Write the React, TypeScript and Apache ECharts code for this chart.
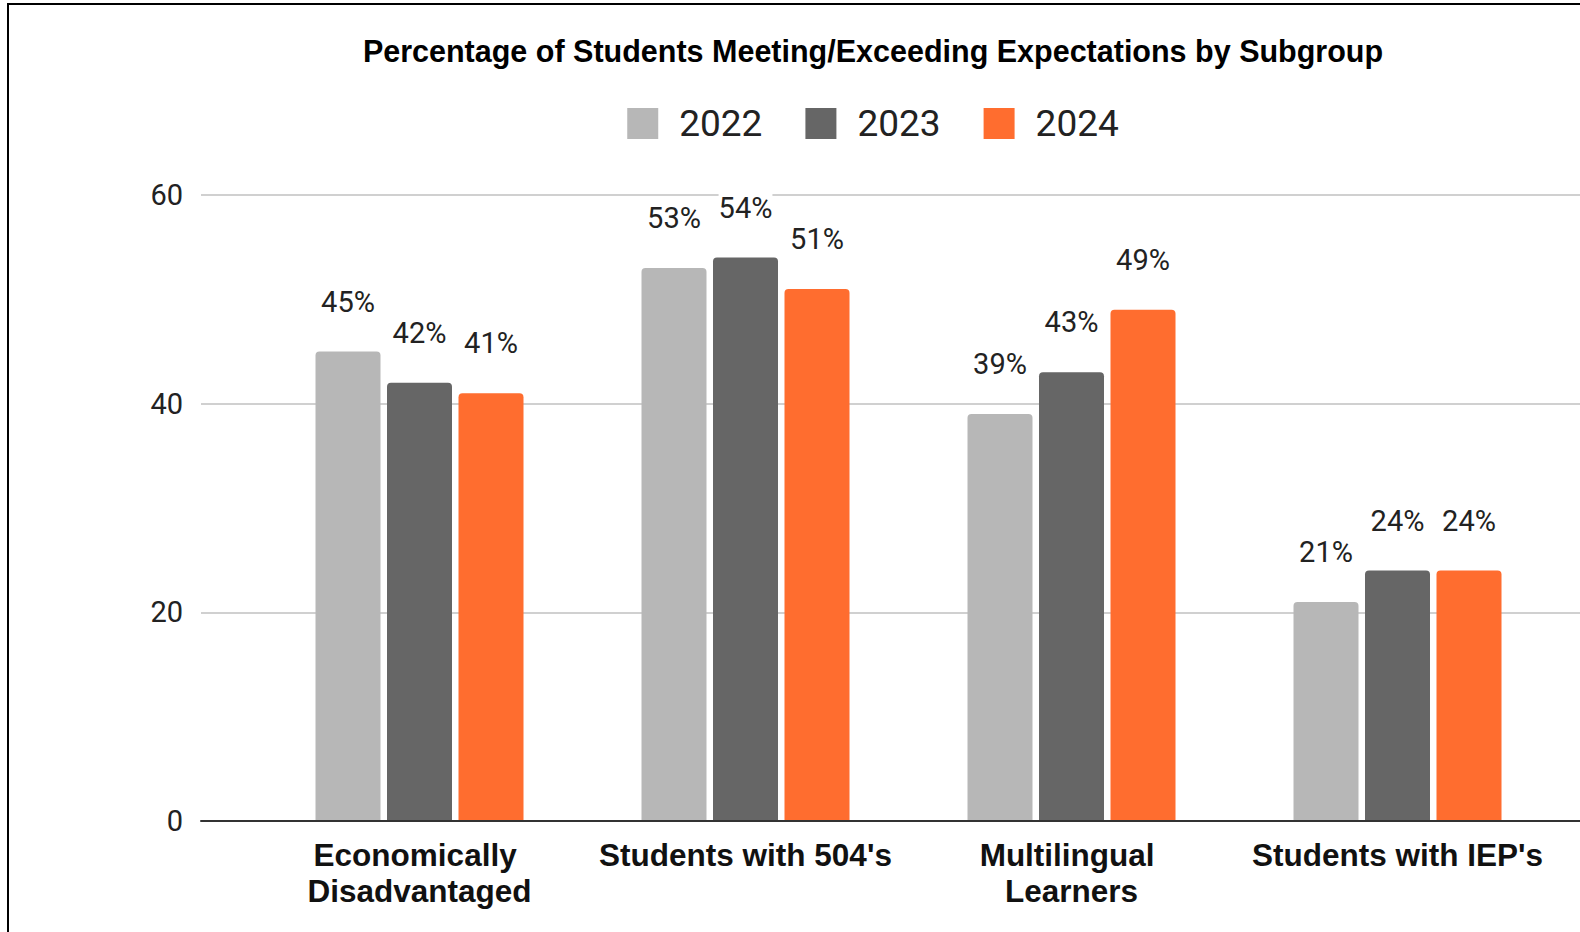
import React, { useEffect, useRef } from "react";
import * as echarts from "echarts";

const categories = [
  "Economically Disadvantaged",
  "Students with 504's",
  "Multilingual Learners",
  "Students with IEP's",
];
const seriesNames = ["2022", "2023", "2024"];
const values2022 = [45, 53, 39, 21];
const values2023 = [42, 54, 43, 24];
const values2024 = [41, 51, 49, 24];
const seriesColors = ["#b7b7b7", "#666666", "#ff6d2f"];
const yMin = 0;
const yMax = 60;
const yInterval = 20;

const titleText = "Percentage of Students Meeting/Exceeding Expectations by Subgroup";

export default function App() {
  const ref = useRef<HTMLDivElement>(null);
  useEffect(() => {
    if (!ref.current) return;
    const chart = echarts.init(ref.current, null, { renderer: "svg" });
    const allValues = [values2022, values2023, values2024];
    const sansBold = '"Liberation Sans", Arial, sans-serif';
    const roboto = "Roboto, 'Noto Sans', sans-serif";
    chart.setOption({
      animation: false,
      backgroundColor: "#ffffff",
      title: {
        text: titleText,
        left: "center",
        top: 30,
        textStyle: {
          fontFamily: sansBold,
          fontWeight: "bold",
          fontSize: 30.5,
          color: "#000000",
        },
      },
      legend: {
        data: seriesNames,
        left: "center",
        top: 100,
        icon: "rect",
        itemWidth: 31,
        itemHeight: 31,
        itemGap: 43,
        textStyle: {
          fontFamily: roboto,
          fontSize: 37,
          color: "#222222",
          padding: [0, 0, 0, 16],
        },
      },
      graphic: [
        {
          type: "rect",
          shape: { x: 8, y: 4, width: 1730, height: 1100 },
          style: { fill: "none", stroke: "#000000", lineWidth: 2 },
          silent: true,
          z: 100,
        },
      ],
      grid: [
        { left: 256.5, width: 1304, top: 195, height: 626 },
        { left: 201, width: 1414, top: 195, height: 626 },
      ],
      xAxis: [
        {
          type: "category",
          gridIndex: 0,
          data: categories,
          axisLine: { show: false },
          axisTick: { show: false },
          axisLabel: {
            margin: 16,
            fontFamily: sansBold,
            fontWeight: "bold",
            fontSize: 31.5,
            lineHeight: 36,
            color: "#111111",
            width: 305,
            overflow: "break",
            interval: 0,
          },
        },
        {
          type: "value",
          gridIndex: 1,
          min: 0,
          max: 1,
          z: 10,
          axisLine: { show: true, lineStyle: { color: "#333333", width: 2 } },
          axisTick: { show: false },
          axisLabel: { show: false },
          splitLine: { show: false },
        },
      ],
      yAxis: [
        {
          type: "value",
          gridIndex: 0,
          min: yMin,
          max: yMax,
          interval: yInterval,
          show: false,
          splitLine: { show: false },
        },
        {
          type: "value",
          gridIndex: 1,
          min: yMin,
          max: yMax,
          interval: yInterval,
          axisLine: { show: false },
          axisTick: { show: false },
          axisLabel: {
            margin: 18,
            fontFamily: roboto,
            fontSize: 29,
            color: "#222222",
          },
          splitLine: { show: true, lineStyle: { color: "#d0d0d0", width: 2 } },
        },
      ],
      series: seriesNames.map((name, i) => ({
        name,
        type: "bar",
        xAxisIndex: 0,
        yAxisIndex: 0,
        data: allValues[i],
        barWidth: 65,
        barGap: "10%",
        itemStyle: { color: seriesColors[i], borderRadius: [4, 4, 0, 0] },
        label: {
          show: true,
          position: "top",
          distance: 33,
          formatter: "{c}%",
          fontFamily: roboto,
          fontSize: 29,
          lineHeight: 34,
          color: "#222222",
          backgroundColor: "#ffffff",
        },
      })),
    });
    return () => chart.dispose();
  }, []);
  return (
    <div
      style={{
        position: "fixed",
        left: 0,
        top: 0,
        width: 1580,
        height: 932,
        overflow: "hidden",
        background: "#ffffff",
      }}
    >
      <div ref={ref} style={{ width: 1746, height: 932 }} />
    </div>
  );
}
